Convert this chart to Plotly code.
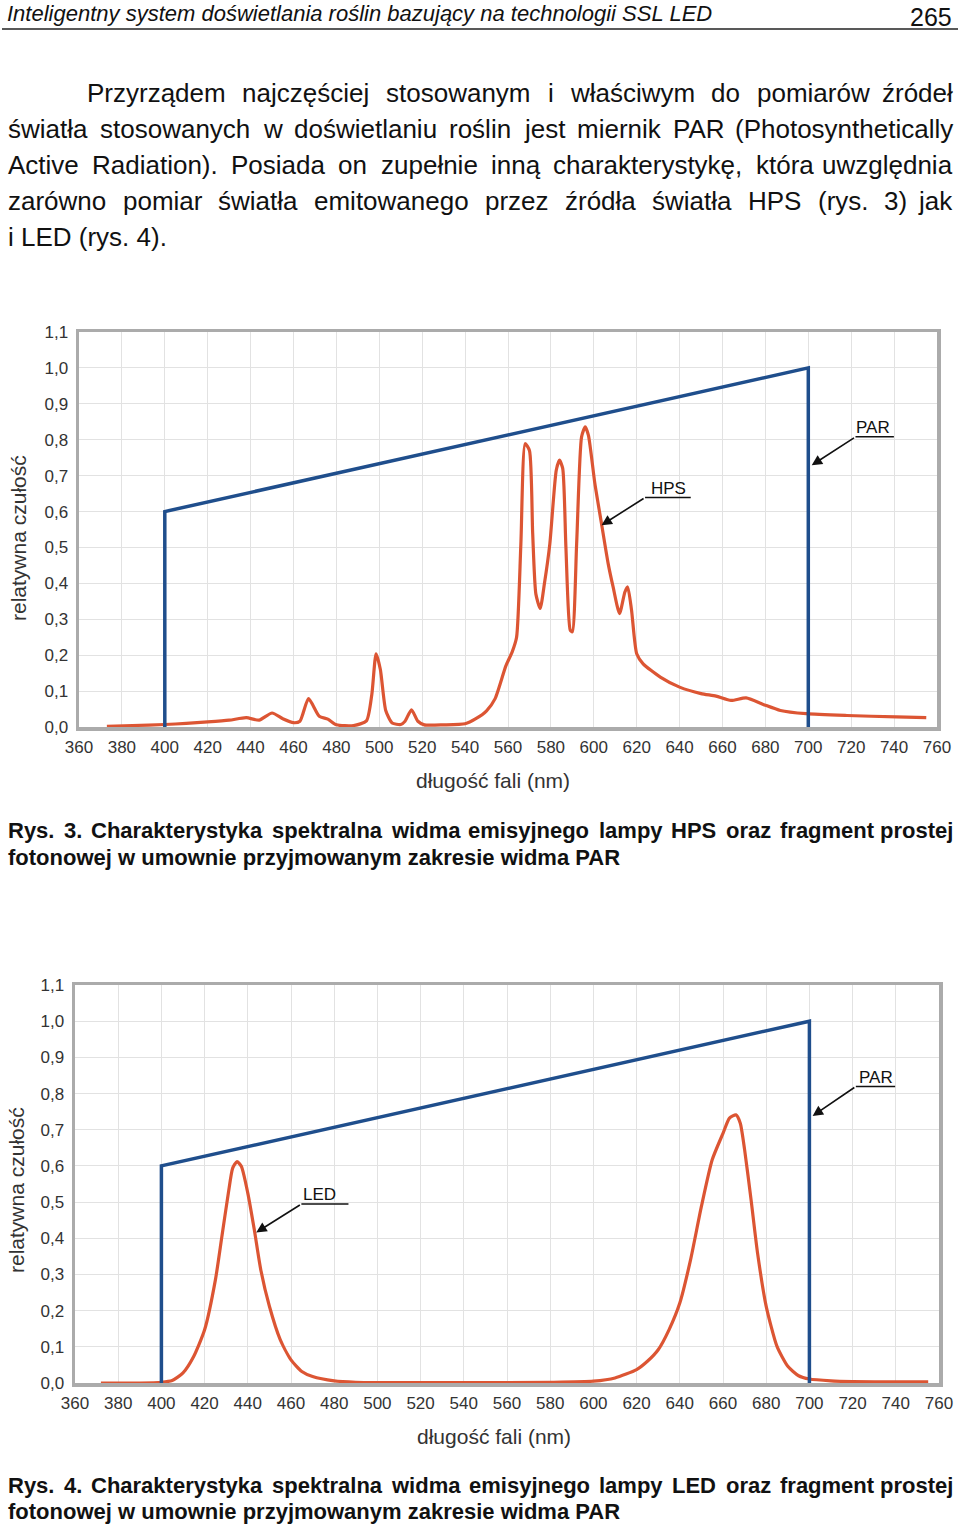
import plotly.graph_objects as go

W, H = 960, 1526

# ---------------- data ----------------
x_ticks = list(range(360, 761, 20))
y_ticks = [0.0, 0.1, 0.2, 0.3, 0.4, 0.5, 0.6, 0.7, 0.8, 0.9, 1.0, 1.1]
y_tick_text = ["0,0", "0,1", "0,2", "0,3", "0,4", "0,5", "0,6", "0,7", "0,8", "0,9", "1,0", "1,1"]

par_x = [400, 400, 700, 700]
par_y = [0.0, 0.6, 1.0, 0.0]

hps_x = [373, 385, 400, 410, 420, 430, 438, 444, 450, 455, 460, 463, 467, 472, 476, 480, 488,
         494, 496.5, 498.5, 500.5, 503, 506, 510, 512, 515, 518, 521, 530, 540, 545, 550, 554,
         559, 562, 564, 566, 568, 570, 571.5, 573, 575, 577, 579.5, 582.5, 584, 585.5, 587, 589,
         590, 592, 594.3, 596, 597.5, 600.5, 603.6, 606.7, 609, 612, 614.5, 615.8, 617.6, 620,
         623, 631, 640, 650, 657, 664, 671, 679, 687, 699, 718, 741, 755]
hps_y = [0.002, 0.004, 0.007, 0.010, 0.014, 0.019, 0.026, 0.019, 0.039, 0.023, 0.012, 0.016, 0.079,
         0.030, 0.022, 0.006, 0.004, 0.017, 0.090, 0.204, 0.160, 0.046, 0.011, 0.007, 0.016, 0.048,
         0.016, 0.006, 0.006, 0.009, 0.023, 0.045, 0.079, 0.170, 0.210, 0.250, 0.510, 0.789, 0.770,
         0.540, 0.370, 0.330, 0.400, 0.510, 0.715, 0.743, 0.720, 0.500, 0.270, 0.265, 0.510, 0.808,
         0.836, 0.812, 0.678, 0.566, 0.455, 0.390, 0.316, 0.376, 0.390, 0.325, 0.204, 0.176, 0.139,
         0.111, 0.093, 0.086, 0.074, 0.081, 0.063, 0.046, 0.037, 0.032, 0.028, 0.026]

led_x = [372, 390, 400, 405, 410, 415, 420, 425, 428, 431, 433, 435, 437, 440, 443, 446, 450, 455,
         460, 465, 470, 480, 490, 500, 540, 580, 600, 610, 620, 625, 630, 635, 640, 645, 650, 655,
         660, 663, 666, 668, 670, 673, 676, 680, 685, 690, 695, 700, 710, 720, 740, 755]
led_y = [0.0, 0.0, 0.002, 0.007, 0.028, 0.074, 0.147, 0.285, 0.405, 0.525, 0.594, 0.612, 0.599,
         0.525, 0.424, 0.313, 0.212, 0.120, 0.064, 0.032, 0.018, 0.006, 0.002, 0.001, 0.001, 0.002,
         0.005, 0.014, 0.037, 0.060, 0.092, 0.147, 0.221, 0.341, 0.488, 0.617, 0.690, 0.732, 0.741,
         0.718, 0.645, 0.506, 0.359, 0.212, 0.101, 0.046, 0.020, 0.011, 0.006, 0.004, 0.003, 0.003]

header_title = "Inteligentny system doświetlania roślin bazujący na technologii SSL LED"
page_number = "265"
paragraph = [
    "Przyrządem najczęściej stosowanym i właściwym do pomiarów źródeł",
    "światła stosowanych w doświetlaniu roślin jest miernik PAR (Photosynthetically",
    "Active Radiation). Posiada on zupełnie inną charakterystykę, która uwzględnia",
    "zarówno pomiar światła emitowanego przez źródła światła HPS (rys. 3) jak",
    "i LED (rys. 4).",
]
caption3 = ["Rys. 3. Charakterystyka spektralna widma emisyjnego lampy HPS oraz fragment prostej",
            "fotonowej w umownie przyjmowanym zakresie widma PAR"]
caption4 = ["Rys. 4. Charakterystyka spektralna widma emisyjnego lampy LED oraz fragment prostej",
            "fotonowej w umownie przyjmowanym zakresie widma PAR"]
y_title = "relatywna czułość"
x_title = "długość fali (nm)"

BLUE = "#1f4e8c"
RED = "#dc5533"
FONT = "Liberation Sans, Arial, Helvetica, sans-serif"

# ---------------- helpers ----------------
REG = dict(zip("abcdefghijklmnopqrstuvwxyz",
               [556, 556, 500, 556, 556, 278, 556, 556, 222, 222, 500, 222, 833, 556, 556, 556, 556,
                333, 500, 278, 556, 500, 722, 500, 500, 500]))
REG.update(dict(zip("ABCDEFGHIJKLMNOPQRSTUVWXYZ",
                    [667, 667, 722, 722, 667, 611, 778, 722, 278, 500, 667, 556, 833, 722, 778, 667,
                     778, 722, 667, 611, 722, 667, 944, 667, 667, 611])))
BOLD = dict(zip("abcdefghijklmnopqrstuvwxyz",
                [556, 611, 556, 611, 556, 333, 611, 611, 278, 278, 556, 278, 889, 611, 611, 611, 611,
                 389, 556, 333, 611, 556, 778, 556, 556, 500]))
BOLD.update(dict(zip("ABCDEFGHIJKLMNOPQRSTUVWXYZ",
                     [722, 722, 722, 722, 667, 611, 778, 722, 278, 556, 722, 611, 833, 722, 778, 667,
                      778, 722, 667, 611, 722, 667, 944, 667, 667, 611])))
for t in (REG, BOLD):
    for c in "0123456789":
        t[c] = 556
    t.update({" ": 278, ".": 278, ",": 278, "(": 333, ")": 333})
BASE = {"ą": "a", "ę": "e", "ś": "s", "ź": "z", "ż": "z", "ó": "o", "ć": "c", "ń": "n", "ł": "l"}


def text_w(s, size, bold=False):
    t = BOLD if bold else REG
    return sum(t.get(BASE.get(c, c), 556) for c in s) * size / 1000.0


def px(x):
    return x / W


def py(y):
    return 1 - y / H


annotations = []
shapes = []


def add_text(text, x, y, size, xanchor="left", yanchor="middle", bold=False, italic=False, color="#111"):
    if bold:
        text = "<b>" + text + "</b>"
    if italic:
        text = "<i>" + text + "</i>"
    annotations.append(dict(text=text, x=px(x), y=py(y), xref="paper", yref="paper",
                            xanchor=xanchor, yanchor=yanchor, showarrow=False,
                            font=dict(family=FONT, size=size, color=color)))


def justify(line, left, right, y, size, bold=False):
    words = line.split(" ")
    widths = [text_w(w, size, bold) for w in words]
    gap = (right - left - sum(widths)) / (len(words) - 1)
    x = left
    for i, w in enumerate(words):
        if i == len(words) - 1:
            add_text(w, right, y, size, xanchor="right", bold=bold)
        else:
            add_text(w, x, y, size, bold=bold)
        x += widths[i] + gap


# ---------------- page text ----------------
add_text(header_title, 5, 13, 22, italic=True)
add_text(page_number, 954, 0.5, 25, xanchor="right", yanchor="top")
shapes.append(dict(type="line", xref="paper", yref="paper", x0=px(2), x1=px(958), y0=py(29), y1=py(29),
                   line=dict(color="#222", width=1.5)))

para_y = [93, 129, 165, 201, 237]
justify(paragraph[0], 85, 955, para_y[0], 26)
for i in range(1, 4):
    justify(paragraph[i], 6, 955, para_y[i], 26)
add_text(paragraph[4], 6, para_y[4], 26)

justify(caption3[0], 6, 955, 830, 22, bold=True)
add_text(caption3[1], 6, 857, 22, bold=True)
justify(caption4[0], 6, 955, 1485, 22, bold=True)
add_text(caption4[1], 6, 1511, 22, bold=True)

# axis titles
for (xc, yc) in [(18, 538), (16, 1190)]:
    annotations.append(dict(text=y_title, x=px(xc), y=py(yc), xref="paper", yref="paper",
                            textangle=-90, showarrow=False, xanchor="center", yanchor="middle",
                            font=dict(family=FONT, size=21, color="#333")))
for (xc, yc) in [(493, 780), (494, 1436)]:
    add_text(x_title, xc, yc, 21, xanchor="center", color="#333")

# ---------------- figure ----------------
fig = go.Figure()
fig.add_trace(go.Scatter(x=hps_x, y=hps_y, mode="lines", line=dict(color=RED, width=3.2, shape="spline", smoothing=0.6),
                         xaxis="x", yaxis="y", showlegend=False, hoverinfo="skip"))
fig.add_trace(go.Scatter(x=par_x, y=par_y, mode="lines", line=dict(color=BLUE, width=3.5),
                         xaxis="x", yaxis="y", showlegend=False, hoverinfo="skip"))
fig.add_trace(go.Scatter(x=led_x, y=led_y, mode="lines", line=dict(color=RED, width=3.2, shape="spline", smoothing=0.6),
                         xaxis="x2", yaxis="y2", showlegend=False, hoverinfo="skip"))
fig.add_trace(go.Scatter(x=par_x, y=par_y, mode="lines", line=dict(color=BLUE, width=3.5),
                         xaxis="x2", yaxis="y2", showlegend=False, hoverinfo="skip"))

# callouts: (label, text_x, text_y, underline_x0, underline_x1, underline_y, tip_x, tip_y, xref, yref)
callouts = [
    ("PAR", 730.3, 0.835, 722.0, 739.9, 0.808, 701.6, 0.729, "x", "y"),
    ("HPS", 634.7, 0.664, 623.9, 645.2, 0.639, 603.6, 0.562, "x", "y"),
    ("PAR", 730.7, 0.845, 721.5, 739.7, 0.8195, 701.5, 0.738, "x2", "y2"),
    ("LED", 473.4, 0.520, 464.8, 486.6, 0.4945, 443.9, 0.416, "x2", "y2"),
]
for lab, tx, ty, u0, u1, uy, ax_, ay_, xr, yr in callouts:
    annotations.append(dict(text=lab, x=tx, y=ty, xref=xr, yref=yr, showarrow=False,
                            xanchor="center", yanchor="middle",
                            font=dict(family=FONT, size=17, color="#111")))
    shapes.append(dict(type="line", xref=xr, yref=yr, x0=u0, x1=u1, y0=uy, y1=uy,
                       line=dict(color="#111", width=1.5)))
    annotations.append(dict(text="", x=ax_, y=ay_, xref=xr, yref=yr, ax=u0, ay=uy, axref=xr, ayref=yr,
                            showarrow=True, arrowhead=2, arrowsize=1.3, arrowwidth=1.6, arrowcolor="#111",
                            standoff=0, startstandoff=0))

axis_common = dict(showgrid=True, gridcolor="#e2e2e2", gridwidth=1, zeroline=False, automargin=False,
                   showline=True, linecolor="#ababab", linewidth=3.5, mirror=True, ticks="",
                   tickfont=dict(family=FONT, size=17, color="#333"))

xa = dict(axis_common, range=[360, 760], tickmode="array", tickvals=x_ticks,
          ticktext=[str(v) for v in x_ticks], ticklabelstandoff=2)
ya = dict(axis_common, range=[0, 1.1], tickmode="array", tickvals=y_ticks, ticktext=y_tick_text,
          ticklabelstandoff=4)

fig.update_layout(
    template="none",
    autosize=False,
    width=W, height=H, margin=dict(l=0, r=0, t=0, b=0, pad=0, autoexpand=False),
    paper_bgcolor="white", plot_bgcolor="white",
    xaxis=dict(xa, domain=[px(79), px(937)], anchor="y"),
    yaxis=dict(ya, domain=[py(727), py(332)], anchor="x"),
    xaxis2=dict(xa, domain=[px(75), px(939)], anchor="y2"),
    yaxis2=dict(ya, domain=[py(1383), py(985)], anchor="x2"),
    annotations=annotations, shapes=shapes, showlegend=False,
)

# remove the browser's default page margin so the 960x1526 figure fills the window exactly
fig.write_html("out.html", config={"displayModeBar": False, "staticPlot": True},
               post_script="document.body.style.margin='0';document.body.style.overflow='hidden';")
